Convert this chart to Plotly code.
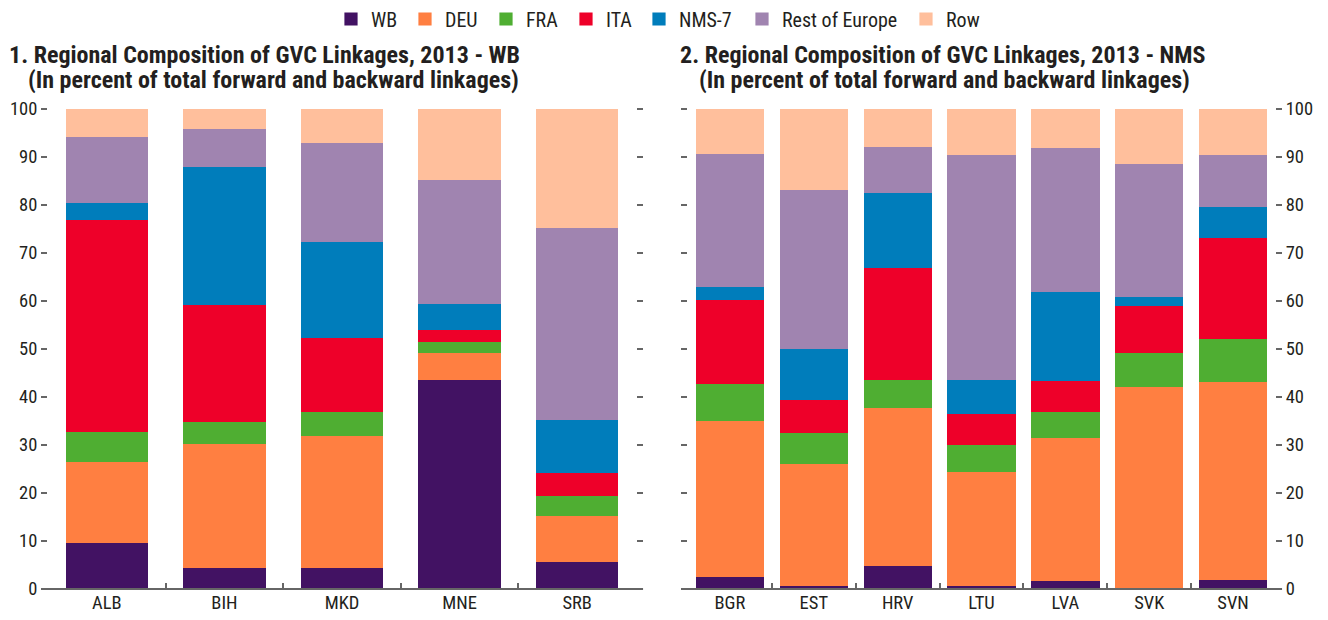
import plotly.graph_objs as go

# categories
wb_countries = ['ALB', 'BIH', 'MKD', 'MNE', 'SRB']
nms_countries = ['BGR', 'EST', 'HRV', 'LTU', 'LVA', 'SVK', 'SVN']

# partner regions (series) and colours
regions = ['WB', 'DEU', 'FRA', 'ITA', 'NMS-7', 'Rest of Europe', 'Row']
colors = ['#421263', '#FF7F41', '#4FAE32', '#EE0029', '#007DBB', '#A084B0', '#FFBF9C']

# panel 1 - shares in percent, one list per region (ALB, BIH, MKD, MNE, SRB)
wb_WB = [9.8, 4.4, 4.6, 43.75, 5.8]
wb_DEU = [16.7, 26.0, 27.3, 5.45, 9.6]
wb_FRA = [6.4, 4.6, 5.0, 2.3, 4.2]
wb_ITA = [44.0, 24.2, 15.5, 2.5, 4.6]
wb_NMS = [3.7, 28.9, 20.1, 5.6, 11.2]
wb_ROE = [13.6, 7.9, 20.6, 25.8, 40.0]
wb_ROW = [5.8, 4.0, 6.9, 14.6, 24.6]

# panel 2 - shares in percent (BGR, EST, HRV, LTU, LVA, SVK, SVN)
nms_WB = [2.7, 0.8, 5.0, 0.8, 1.7, 0.4, 2.1]
nms_DEU = [32.5, 25.45, 32.9, 23.8, 29.8, 41.9, 41.2]
nms_FRA = [7.7, 6.45, 5.85, 5.6, 5.4, 6.9, 9.0]
nms_ITA = [17.5, 6.9, 23.35, 6.3, 6.6, 9.8, 21.0]
nms_NMS = [2.7, 10.6, 15.6, 7.25, 18.4, 2.0, 6.5]
nms_ROE = [27.7, 33.1, 9.6, 46.85, 30.2, 27.75, 10.8]
nms_ROW = [9.2, 16.7, 7.7, 9.4, 7.9, 11.25, 9.4]

wb_series = [wb_WB, wb_DEU, wb_FRA, wb_ITA, wb_NMS, wb_ROE, wb_ROW]
nms_series = [nms_WB, nms_DEU, nms_FRA, nms_ITA, nms_NMS, nms_ROE, nms_ROW]

y_ticks = list(range(0, 101, 10))

FONT = 'Roboto Condensed, DejaVu Sans Condensed, sans-serif'
TXT = '#231F20'
AXC = '#666666'

# the page body has an 8px margin, so the figure is 8px smaller than the window
W, H = 1320, 612
# plot area in window pixels: x 48..1275, y 109..589
ML, MR, MT, MB = 48 - 8, 1328 - 1275, 109 - 8, 620 - 589
PW, PH = W - ML - MR, H - MT - MB


def px_x(px):  # window pixel -> paper x
    return (px - 8 - ML) / PW


def px_y(py):  # window pixel -> paper y
    return 1 + (MT - (py - 8)) / PH


# one single-item legend per region so each key sits where it does in the original
legend_ids = ['legend'] + ['legend%d' % i for i in range(2, len(regions) + 1)]
legend_left = [331, 405, 486, 566, 639, 742, 906]  # window px

traces = []
for i, (name, col, vals) in enumerate(zip(regions, colors, wb_series)):  # left panel
    traces.append(go.Bar(x=wb_countries, y=vals, name=name, width=0.69,
                         marker={'color': col, 'line': {'width': 1.2, 'color': col}},
                         xaxis='x', yaxis='y', legendgroup=name, legend=legend_ids[i]))
for name, col, vals in zip(regions, colors, nms_series):  # right panel
    traces.append(go.Bar(x=nms_countries, y=vals, name=name, width=0.8,
                         marker={'color': col, 'line': {'width': 1.2, 'color': col}},
                         xaxis='x2', yaxis='y2', legendgroup=name, showlegend=False))

tick_font = {'size': 18.5, 'color': TXT, 'family': FONT}
xax = dict(type='category', showline=False, ticks='inside', tickson='boundaries',
           ticklen=6, tickwidth=1.5, tickcolor=AXC, showgrid=False, zeroline=False,
           tickfont=tick_font)
yax = dict(range=[0, 100], tickvals=y_ticks, ticks='outside', ticklen=6, tickwidth=1.5,
           tickcolor=AXC, mirror='ticks', showline=False, showgrid=False, zeroline=False,
           tickfont=tick_font, domain=[0, 1])

layout = go.Layout(
    width=W, height=H, barmode='stack',
    margin={'l': ML, 'r': MR, 't': MT, 'b': MB, 'autoexpand': False},
    paper_bgcolor='white', plot_bgcolor='white',
    font={'family': FONT, 'color': TXT},
    xaxis=dict(xax, domain=[0, px_x(636)], anchor='y'),
    yaxis=dict(yax, anchor='x'),
    xaxis2=dict(xax, domain=[px_x(688), 1], anchor='y2'),
    yaxis2=dict(yax, anchor='x2', side='right'),
    showlegend=True,
)
for lid, lx in zip(legend_ids, legend_left):
    layout[lid] = dict(orientation='h', x=px_x(lx), xanchor='left', y=px_y(19),
                       yanchor='middle', font={'size': 20, 'color': TXT, 'family': FONT},
                       itemclick=False, itemdoubleclick=False)

# panel titles
tfont = {'size': 24, 'color': TXT, 'family': FONT}
titles = [
    (8, 55, '<b>1. Regional Composition of GVC Linkages, 2013 - WB</b>'),
    (27, 80, '<b>(In percent of total forward and backward linkages)</b>'),
    (679, 55, '<b>2. Regional Composition of GVC Linkages, 2013 - NMS</b>'),
    (698, 80, '<b>(In percent of total forward and backward linkages)</b>'),
]
layout.annotations = [dict(x=px_x(px), y=px_y(py), xref='paper', yref='paper',
                           text=t, showarrow=False, xanchor='left', yanchor='middle',
                           borderpad=0, font=tfont) for px, py, t in titles]

# baselines running under the tick dashes
layout.shapes = [
    dict(type='line', xref='x domain', yref='y domain', x0=-0.0102, x1=1.012, y0=0, y1=0,
         line={'color': AXC, 'width': 2}),
    dict(type='line', xref='x2 domain', yref='y2 domain', x0=-0.0119, x1=1.012, y0=0, y1=0,
         line={'color': AXC, 'width': 2}),
]

fig = go.Figure(data=traces, layout=layout)
fig.write_html("out.html")
